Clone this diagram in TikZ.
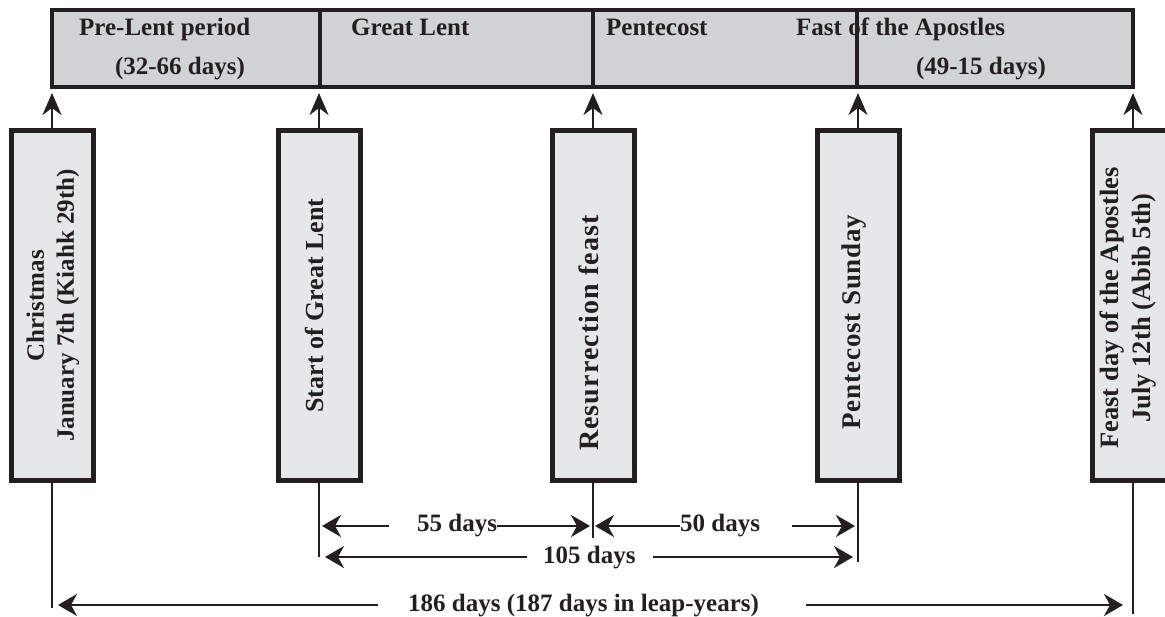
\documentclass[tikz,border=0pt]{standalone}
\usepackage{fontspec}
\setmainfont{Liberation Serif}
\usetikzlibrary{arrows.meta}
\definecolor{ink}{HTML}{231F20}
\definecolor{barfill}{HTML}{D1D3D4}
\definecolor{boxfill}{HTML}{E6E7E8}
\begin{document}
\begin{tikzpicture}[x=1pt,y=-1pt,
  seg/.style={draw=ink, line width=4pt, fill=barfill, inner sep=0pt, outer sep=0pt, minimum height=77pt},
  datebox/.style={draw=ink, line width=5pt, fill=boxfill, inner sep=0pt, outer sep=0pt, minimum width=82pt, minimum height=350pt},
  boxtext/.style={rotate=90, align=center, text=ink, inner sep=0pt, font=\bfseries\fontsize{25}{30}\selectfont},
  lbl/.style={text=ink, inner sep=0pt, font=\bfseries\fontsize{25}{30}\selectfont},
  uptip/.style={draw=ink, line width=2pt, -{Stealth[length=22pt,width=19pt,inset=7pt]}},
  dimtip/.style={draw=ink, line width=2pt, -{Stealth[length=19pt,width=22pt,inset=6pt]}},
  tick/.style={draw=ink, line width=2pt}]
\useasboundingbox (0,0) rectangle (1165,616);

% top bar segments
\node[seg, minimum width=268pt] (s1) at (186,48.5) {};
\node[seg, minimum width=273pt] (s2) at (456.5,48.5) {};
\node[seg, minimum width=264pt] (s3) at (725,48.5) {};
\node[seg, minimum width=276pt] (s4) at (995,48.5) {};

% bar labels
\node[lbl, anchor=base west] (tpre) at (79,35) {Pre-Lent period};
\node[lbl, anchor=base] (tpred) at (180,74) {(32-66 days)};
\node[lbl, anchor=base west] (tgl) at (351,35) {Great Lent};
\node[lbl, anchor=base west] (tpen) at (606,35) {Pentecost};
\node[lbl, anchor=base west] (tfa) at (796,35) {Fast of the Apostles};
\node[lbl, anchor=base] (tfad) at (981,74) {(49-15 days)};

% date boxes
\node[datebox] (chr) at (52,305.5) {};
\node[datebox] (st) at (319,305.5) {};
\node[datebox] (res) at (593,305.5) {};
\node[datebox] (pent) at (858,305.5) {};
\node[datebox] (feast) at (1133,305.5) {};

\node[boxtext] (chrt) at (53,305.5) {Christmas\\January 7th (Kiahk 29th)};
\node[boxtext, font=\bfseries\fontsize{26}{30}\selectfont] (stt) at (314,305.5) {Start of Great Lent};
\node[boxtext, font=\bfseries\fontsize{28}{32}\selectfont\addfontfeatures{LetterSpace=4}] (rest) at (589,333) {Resurrection feast};
\node[boxtext, font=\bfseries\fontsize{27}{32}\selectfont\addfontfeatures{LetterSpace=3}] (pentt) at (854,322) {Pentecost Sunday};
\node[boxtext, font=\bfseries\fontsize{26.5}{32}\selectfont] (feastt) at (1128,308) {Feast day of the Apostles\\July 12th (Abib 5th)};

% arrows up to the bar
\draw[uptip] (chr.north) -- ([yshift=-6pt]chr.north |- s1.south);
\draw[uptip] (st.north) -- ([yshift=-6pt]st.north |- s2.south);
\draw[uptip] (res.north) -- ([yshift=-6pt]res.north |- s3.south);
\draw[uptip] (pent.north) -- ([yshift=-6pt]pent.north |- s4.south);
\draw[uptip] (feast.north) -- ([yshift=-6pt]feast.north |- s4.south);

% drop lines
\coordinate (chrB) at (52,608);
\coordinate (stB) at (319,557);
\coordinate (resB) at (593,538);
\coordinate (pentB) at (858,562);
\coordinate (feastB) at (1133,614);
\draw[tick] (chr.south) -- (chrB);
\draw[tick] (st.south) -- (stB);
\draw[tick] (res.south) -- (resB);
\draw[tick] (pent.south) -- (pentB);
\draw[tick] (feast.south) -- (feastB);

% 55 days
\node[lbl, anchor=base west] (t55) at (417,531) {55 days};
\coordinate (c55l) at (389,526);
\coordinate (c55r) at (497,526);
\draw[dimtip, shorten >=3pt] (c55l) -- (c55l -| stB);
\draw[dimtip, shorten >=3pt] (c55r) -- (c55r -| resB);
% 50 days
\node[lbl, anchor=base west] (t50) at (680,531) {50 days};
\coordinate (c50l) at (680,526);
\coordinate (c50r) at (792,526);
\draw[dimtip, shorten >=2pt] (c50l) -- (c50l -| resB);
\draw[dimtip, shorten >=3pt] (c50r) -- (c50r -| pentB);
% 105 days
\node[lbl, anchor=base west] (t105) at (543,563) {105 days};
\coordinate (c105l) at (527,557);
\coordinate (c105r) at (653,557);
\draw[dimtip, shorten >=6pt] (c105l) -- (c105l -| stB);
\draw[dimtip, shorten >=5pt] (c105r) -- (c105r -| pentB);
% 186 days
\node[lbl, anchor=base west] (t186) at (408,611) {186 days (187 days in leap-years)};
\coordinate (c186l) at (378,605);
\coordinate (c186r) at (806,605);
\draw[dimtip, shorten >=6pt] (c186l) -- (c186l -| chrB);
\draw[dimtip, shorten >=10pt] (c186r) -- (c186r -| feastB);
\end{tikzpicture}
\end{document}
